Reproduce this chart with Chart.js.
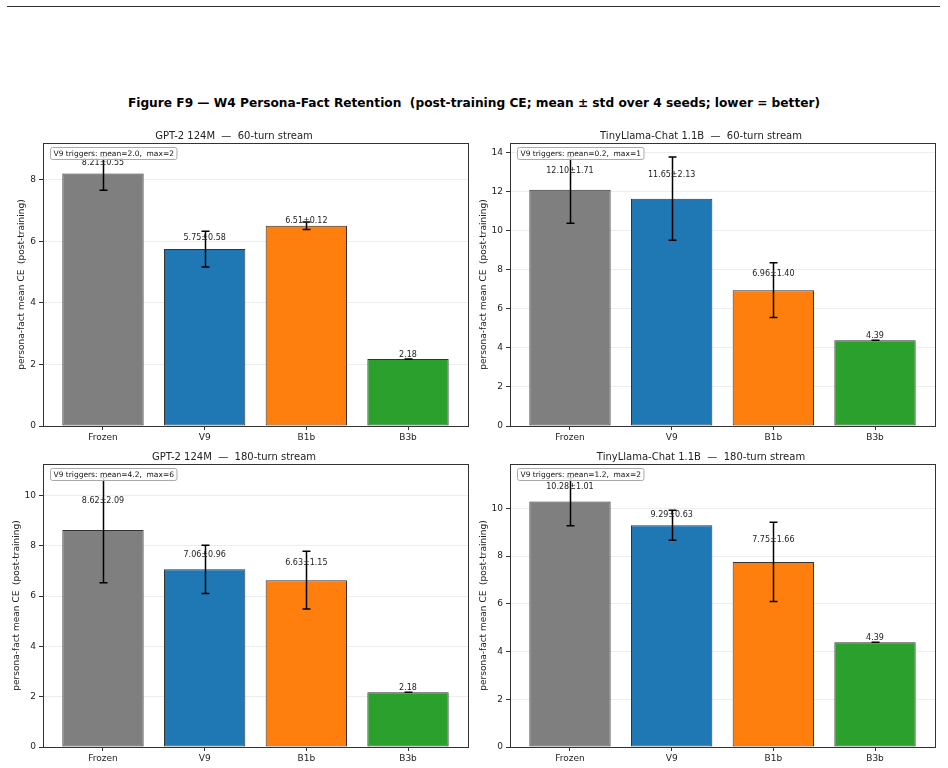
<!DOCTYPE html>
<html>
<head>
<meta charset="utf-8">
<script src="https://cdn.jsdelivr.net/npm/chart.js@4"></script>
<style>
body { margin: 0; background: #fff; width: 948px; height: 768px; position: relative; overflow: hidden; font-family: "DejaVu Sans"; }
#topline { position: absolute; left: 7px; top: 6px; width: 933px; height: 0; border-top: 1px solid #333; }
#suptitle { position: absolute; left: 0; top: 96px; width: 948px; text-align: center; font-weight: bold; font-size: 12.2px; color: #000; white-space: pre; }
canvas { position: absolute; }
</style>
</head>
<body>
<div id="topline"></div>
<div id="suptitle">Figure F9 — W4 Persona-Fact Retention  (post-training CE; mean ± std over 4 seeds; lower = better)</div>
<canvas id="p1" width="474" height="326" style="left:0px;top:120px"></canvas>
<canvas id="p2" width="474" height="326" style="left:467px;top:120px"></canvas>
<canvas id="p3" width="474" height="326" style="left:0px;top:441px"></canvas>
<canvas id="p4" width="474" height="326" style="left:467px;top:441px"></canvas>
<script>
// data
const categories = ['Frozen', 'V9', 'B1b', 'B3b'];
const barColors = ['#7f7f7f', '#1f77b4', '#ff7f0e', '#2ca02c'];

const gpt2_60_mean = [8.21, 5.75, 6.51, 2.18];
const gpt2_60_std = [0.55, 0.58, 0.12, 0];
const tl_60_mean = [12.10, 11.65, 6.96, 4.39];
const tl_60_std = [1.71, 2.13, 1.40, 0];
const gpt2_180_mean = [8.62, 7.06, 6.63, 2.18];
const gpt2_180_std = [2.09, 0.96, 1.15, 0];
const tl_180_mean = [10.28, 9.29, 7.75, 4.39];
const tl_180_std = [1.01, 0.63, 1.66, 0];

const triggerMean = [2.0, 0.2, 4.2, 1.2];
const triggerMax = [2, 1, 6, 2];

const panelTitles = [
  'GPT-2 124M  —  60-turn stream',
  'TinyLlama-Chat 1.1B  —  60-turn stream',
  'GPT-2 124M  —  180-turn stream',
  'TinyLlama-Chat 1.1B  —  180-turn stream'
];
const yTitle = 'persona-fact mean CE  (post-training)';

Chart.defaults.font.family = 'DejaVu Sans';

/* error bars, value labels, trigger box and frame */
const extras = {
  id: 'extras',
  afterDatasetsDraw(chart, args, opts) {
    const ctx = chart.ctx, xs = chart.scales.x, ys = chart.scales.y, a = chart.chartArea;
    ctx.save();
    ctx.strokeStyle = '#000';
    ctx.lineWidth = 1.5;
    opts.means.forEach((m, i) => {
      const x = Math.round(xs.getPixelForValue(i)) + 0.5;
      const yt = ys.getPixelForValue(m + opts.stds[i]);
      const yb = ys.getPixelForValue(m - opts.stds[i]);
      ctx.beginPath();
      ctx.moveTo(x, yb); ctx.lineTo(x, yt);
      ctx.moveTo(x - 4, yt); ctx.lineTo(x + 4, yt);
      ctx.moveTo(x - 4, yb); ctx.lineTo(x + 4, yb);
      ctx.stroke();
    });
    ctx.fillStyle = '#222';
    ctx.font = '8px "DejaVu Sans"';
    ctx.textAlign = 'center';
    ctx.textBaseline = 'middle';
    opts.means.forEach((m, i) => {
      const s = opts.stds[i];
      const txt = s > 0 ? m.toFixed(2) + '±' + s.toFixed(2) : m.toFixed(2);
      const lift = s > 0 ? 2.5 : 4.5;
      ctx.fillText(txt, xs.getPixelForValue(i), ys.getPixelForValue(m + 0.5 * s) - lift);
    });
    // frame
    ctx.strokeStyle = '#333';
    ctx.lineWidth = 1;
    ctx.strokeRect(Math.round(a.left) + 0.5, Math.round(a.top) + 0.5, Math.round(a.right - a.left), Math.round(a.bottom - a.top));
    // trigger box
    const label = 'V9 triggers: mean=' + opts.tMean.toFixed(1) + ',  max=' + opts.tMax;
    ctx.font = '7.5px "DejaVu Sans"';
    const w = ctx.measureText(label).width + 6;
    const bx = Math.round(a.left) + 7.5, by = Math.round(a.top) + 4.5;
    ctx.beginPath();
    ctx.roundRect(bx, by, w, 12, 2);
    ctx.fillStyle = 'rgba(255,255,255,0.85)';
    ctx.fill();
    ctx.strokeStyle = '#aaa';
    ctx.stroke();
    ctx.fillStyle = '#111';
    ctx.textAlign = 'left';
    ctx.fillText(label, bx + 3, by + 6.5);
    ctx.restore();
  }
};

function drawPanel(id, n, means, stds, titlePad) {
  const top = Math.max(...means.map((m, i) => m + stds[i])) * 1.05;
  const canvas = document.getElementById(id);
  new Chart(canvas, {
    type: 'bar',
    data: {
      datasets: [{
        data: means.map((m, i) => ({ x: i, y: m })),
        backgroundColor: barColors,
        borderColor: '#333',
        borderWidth: 1,
        borderSkipped: false,
        categoryPercentage: 1,
        barPercentage: 0.8
      }]
    },
    options: {
      responsive: false,
      animation: false,
      layout: { padding: { left: 0, right: 6, top: 0, bottom: 0 } },
      plugins: {
        legend: { display: false },
        tooltip: { enabled: false },
        title: {
          display: true, text: panelTitles[n], color: '#222',
          font: { size: 10, weight: 'normal' }, padding: { top: 10, bottom: 1 }
        },
        extras: { means: means, stds: stds, tMean: triggerMean[n], tMax: triggerMax[n] }
      },
      scales: {
        x: {
          type: 'linear', min: -0.59, max: 3.59, offset: false,
          afterBuildTicks(s) { s.ticks = categories.map((c, i) => ({ value: i })); },
          ticks: { callback: v => categories[v], font: { size: 9 }, color: '#222', padding: 2, autoSkip: false, maxRotation: 0 },
          grid: { offset: false, drawOnChartArea: false, tickColor: '#333', tickLength: 4, tickWidth: 1 },
          border: { display: false },
          afterFit(s) { s.height = 20; }
        },
        y: {
          min: 0, max: top,
          ticks: { stepSize: 2, includeBounds: false, font: { size: 9 }, color: '#222', padding: 3 },
          grid: { color: 'rgba(0,0,0,0.09)', lineWidth: 0.8, tickColor: '#333', tickLength: 4, tickWidth: 1 },
          border: { display: false },
          title: { display: true, text: yTitle, color: '#222', font: { size: 9 }, padding: { top: titlePad, bottom: 0 } },
          afterFit(s) { s.width = 43; }
        }
      }
    },
    plugins: [extras]
  });
}

drawPanel('p1', 0, gpt2_60_mean, gpt2_60_std, 16);
drawPanel('p2', 1, tl_60_mean, tl_60_std, 11);
drawPanel('p3', 2, gpt2_180_mean, gpt2_180_std, 11);
drawPanel('p4', 3, tl_180_mean, tl_180_std, 11);
</script>
</body>
</html>
